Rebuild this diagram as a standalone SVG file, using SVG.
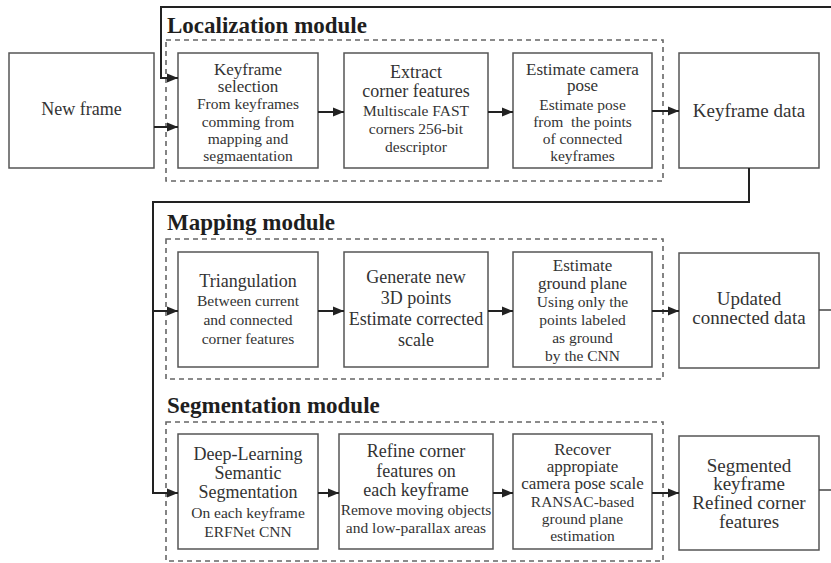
<svg xmlns="http://www.w3.org/2000/svg" width="831" height="563" viewBox="0 0 831 563">
  <defs>
    <marker id="arrow" markerUnits="userSpaceOnUse" markerWidth="12" markerHeight="10" refX="11" refY="5" orient="auto">
      <path d="M0,0.5 L11,5 L0,9.5 z" fill="#222"/>
    </marker>
    <style>
      .box { fill: #fff; stroke: #555; stroke-width: 1.5; }
      .module { fill: none; stroke: #666; stroke-width: 1.6; stroke-dasharray: 5 4; }
      .title { font-family: "Liberation Serif", "DejaVu Serif", serif; font-weight: bold; font-size: 23px; fill: #1e1e1e; }
      .h { font-family: "Liberation Serif", "DejaVu Serif", serif; font-size: 18px; fill: #333; text-anchor: middle; }
      .t { font-family: "Liberation Serif", "DejaVu Serif", serif; font-size: 17px; fill: #333; text-anchor: middle; }
      .s { font-family: "Liberation Serif", "DejaVu Serif", serif; font-size: 15.5px; fill: #333; text-anchor: middle; }
      .big { font-family: "Liberation Serif", "DejaVu Serif", serif; font-size: 19px; fill: #333; text-anchor: middle; }
      .link { fill: none; stroke: #222; stroke-width: 2; }
      .tail { fill: none; stroke: #444; stroke-width: 1.5; }
    </style>
  </defs>

  <!-- Module frames and headings -->
  <g id="localization-module">
    <rect class="module" x="166" y="40" width="497" height="141"/>
    <text class="title" x="167" y="33">Localization module</text>
  </g>
  <g id="mapping-module">
    <rect class="module" x="166" y="239" width="497" height="140"/>
    <text class="title" x="167" y="230">Mapping module</text>
  </g>
  <g id="segmentation-module">
    <rect class="module" x="166" y="422" width="497" height="139"/>
    <text class="title" x="167" y="413">Segmentation module</text>
  </g>

  <!-- Row 1: localization -->
  <g id="new-frame">
    <rect class="box" x="9" y="53" width="145" height="115"/>
    <text class="h" x="81.5" y="115">New frame</text>
  </g>
  <g id="keyframe-selection">
    <rect class="box" x="178" y="53" width="140" height="115"/>
    <text class="t" x="248" y="75">Keyframe</text>
    <text class="t" x="248" y="92">selection</text>
    <text class="s" x="248" y="109">From keyframes</text>
    <text class="s" x="248" y="127">comming from</text>
    <text class="s" x="248" y="144">mapping and</text>
    <text class="s" x="248" y="161">segmaentation</text>
  </g>
  <g id="extract-corners">
    <rect class="box" x="344" y="53" width="144" height="115"/>
    <text class="h" x="416" y="78">Extract</text>
    <text class="h" x="416" y="97">corner features</text>
    <text class="s" x="416" y="116">Multiscale FAST</text>
    <text class="s" x="416" y="134">corners 256-bit</text>
    <text class="s" x="416" y="152">descriptor</text>
  </g>
  <g id="estimate-camera-pose">
    <rect class="box" x="513" y="53" width="139" height="115"/>
    <text class="t" x="582.5" y="75">Estimate camera</text>
    <text class="t" x="582.5" y="91">pose</text>
    <text class="s" x="582.5" y="110">Estimate pose</text>
    <text class="s" x="582.5" y="127" xml:space="preserve">from  the points</text>
    <text class="s" x="582.5" y="144">of connected</text>
    <text class="s" x="582.5" y="161">keyframes</text>
  </g>
  <g id="keyframe-data">
    <rect class="box" x="679" y="53" width="140" height="115"/>
    <text class="big" x="749" y="117">Keyframe data</text>
  </g>

  <!-- Row 2: mapping -->
  <g id="triangulation">
    <rect class="box" x="178" y="252" width="140" height="115"/>
    <text class="h" x="248" y="287">Triangulation</text>
    <text class="s" x="248" y="306">Between current</text>
    <text class="s" x="248" y="325">and connected</text>
    <text class="s" x="248" y="344">corner features</text>
  </g>
  <g id="generate-points">
    <rect class="box" x="344" y="252" width="144" height="115"/>
    <text class="h" x="416" y="283">Generate new</text>
    <text class="h" x="416" y="304">3D points</text>
    <text class="h" x="416" y="325">Estimate corrected</text>
    <text class="h" x="416" y="346">scale</text>
  </g>
  <g id="estimate-ground-plane">
    <rect class="box" x="513" y="252" width="139" height="115"/>
    <text class="t" x="582.5" y="271">Estimate</text>
    <text class="t" x="582.5" y="289">ground plane</text>
    <text class="s" x="582.5" y="307">Using only the</text>
    <text class="s" x="582.5" y="325">points labeled</text>
    <text class="s" x="582.5" y="343">as ground</text>
    <text class="s" x="582.5" y="361">by the CNN</text>
  </g>
  <g id="updated-connected-data">
    <rect class="box" x="679" y="253" width="140" height="115"/>
    <text class="big" x="749" y="305">Updated</text>
    <text class="big" x="749" y="324">connected data</text>
  </g>

  <!-- Row 3: segmentation -->
  <g id="semantic-segmentation">
    <rect class="box" x="178" y="434" width="140" height="115"/>
    <text class="h" x="248" y="460">Deep-Learning</text>
    <text class="h" x="248" y="479">Semantic</text>
    <text class="h" x="248" y="498">Segmentation</text>
    <text class="s" x="248" y="518">On each keyframe</text>
    <text class="s" x="248" y="537">ERFNet CNN</text>
  </g>
  <g id="refine-corners">
    <rect class="box" x="339" y="434" width="154" height="115"/>
    <text class="h" x="416" y="457">Refine corner</text>
    <text class="h" x="416" y="477">features on</text>
    <text class="h" x="416" y="496">each keyframe</text>
    <text class="s" x="416" y="515">Remove moving objects</text>
    <text class="s" x="416" y="533">and low-parallax areas</text>
  </g>
  <g id="recover-scale">
    <rect class="box" x="513" y="434" width="139" height="115"/>
    <text class="t" x="582.5" y="455">Recover</text>
    <text class="t" x="582.5" y="472">appropiate</text>
    <text class="t" x="582.5" y="489">camera pose scale</text>
    <text class="s" x="582.5" y="507">RANSAC-based</text>
    <text class="s" x="582.5" y="524">ground plane</text>
    <text class="s" x="582.5" y="541">estimation</text>
  </g>
  <g id="segmented-keyframe">
    <rect class="box" x="679" y="436" width="140" height="114"/>
    <text class="big" x="749" y="472">Segmented</text>
    <text class="big" x="749" y="490">keyframe</text>
    <text class="big" x="749" y="509">Refined corner</text>
    <text class="big" x="749" y="528">features</text>
  </g>

  <!-- Connectors -->
  <g id="connectors">
    <path class="link" d="M831,7 H161 V78 H178" marker-end="url(#arrow)"/>
    <path class="link" d="M154,127 H178" marker-end="url(#arrow)"/>
    <path class="link" d="M318,112 H344" marker-end="url(#arrow)"/>
    <path class="link" d="M488,112 H513" marker-end="url(#arrow)"/>
    <path class="link" d="M652,111 H679" marker-end="url(#arrow)"/>

    <path class="link" d="M749,168 V202 H153 V493 H178" marker-end="url(#arrow)"/>
    <path class="link" d="M153,311 H178" marker-end="url(#arrow)"/>
    <path class="link" d="M318,311 H344" marker-end="url(#arrow)"/>
    <path class="link" d="M488,311 H513" marker-end="url(#arrow)"/>
    <path class="link" d="M652,311 H679" marker-end="url(#arrow)"/>
    <path class="tail" d="M819,310 H831"/>

    <path class="link" d="M318,493 H339" marker-end="url(#arrow)"/>
    <path class="link" d="M493,493 H513" marker-end="url(#arrow)"/>
    <path class="link" d="M652,493 H679" marker-end="url(#arrow)"/>
    <path class="tail" d="M819,490 H831"/>
  </g>
</svg>
